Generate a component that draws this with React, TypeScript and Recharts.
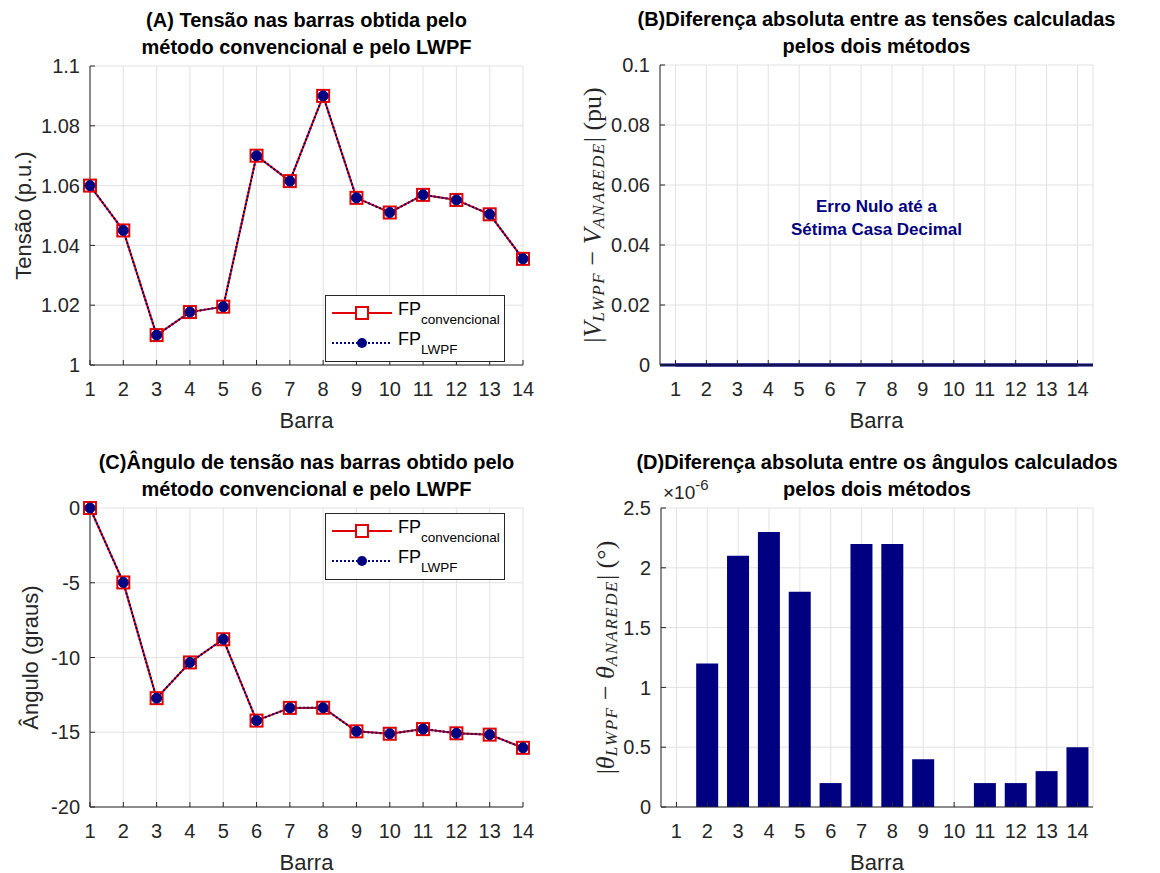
import { LineChart, Line, BarChart, Bar, XAxis, YAxis, CartesianGrid, ReferenceLine, ReferenceDot, Legend } from 'recharts';

// IEEE 14 barras: resultados do fluxo de potência
const buses = [1, 2, 3, 4, 5, 6, 7, 8, 9, 10, 11, 12, 13, 14];
const voltageConv = [1.06, 1.045, 1.01, 1.0177, 1.0195, 1.07, 1.0615, 1.09, 1.0559, 1.051, 1.0569, 1.0552, 1.0504, 1.0355];
const voltageLwpf = [1.06, 1.045, 1.01, 1.0177, 1.0195, 1.07, 1.0615, 1.09, 1.0559, 1.051, 1.0569, 1.0552, 1.0504, 1.0355];
const voltageDiff = [0, 0, 0, 0, 0, 0, 0, 0, 0, 0, 0, 0, 0, 0];
const angleConv = [0, -4.98, -12.72, -10.33, -8.78, -14.22, -13.37, -13.36, -14.94, -15.1, -14.79, -15.07, -15.16, -16.04];
const angleLwpf = [0, -4.98, -12.72, -10.33, -8.78, -14.22, -13.37, -13.36, -14.94, -15.1, -14.79, -15.07, -15.16, -16.04];
// em unidades de 1e-6 graus
const angleDiff = [0, 1.2, 2.1, 2.3, 1.8, 0.2, 2.2, 2.2, 0.4, 0, 0.2, 0.2, 0.3, 0.5];

const voltageTicks = [1, 1.02, 1.04, 1.06, 1.08, 1.1];
const voltageDiffTicks = [0, 0.02, 0.04, 0.06, 0.08, 0.1];
const angleTicks = [-20, -15, -10, -5, 0];
const angleDiffTicks = [0, 0.5, 1, 1.5, 2, 2.5];

const voltageData = buses.map((bus, i) => ({ bus, conv: voltageConv[i], lwpf: voltageLwpf[i], diff: voltageDiff[i] }));
const angleData = buses.map((bus, i) => ({ bus, conv: angleConv[i], lwpf: angleLwpf[i], diff: angleDiff[i] }));

const FONT = '"Liberation Sans", Arial, Helvetica, sans-serif';
const SERIF = '"Liberation Serif", "Times New Roman", serif';
const AX = '#262626';
const GRID = '#e2e2e2';
const RED = '#e00000';
const NAVY = '#000080';
const TICK_FONT = 20;
const LABEL_FONT = 22;

const Y_AXIS_W = 70;
const X_AXIS_H = 60;

type Box = { left: number; top: number; width: number; height: number };
type Plot = { x0: number; x1: number; y0: number; y1: number };

const marginFor = (box: Box, plot: Plot) => ({
  left: plot.x0 - box.left - Y_AXIS_W,
  top: plot.y0 - box.top,
  right: box.left + box.width - plot.x1,
  bottom: box.top + box.height - plot.y1 - X_AXIS_H,
});

const boxA: Box = { left: 0, top: 0, width: 560, height: 437 };
const plotA: Plot = { x0: 90, x1: 523, y0: 66, y1: 365 };
const boxB: Box = { left: 560, top: 0, width: 600, height: 437 };
const plotB: Plot = { x0: 660, x1: 1093, y0: 65, y1: 365 };
const boxC: Box = { left: 0, top: 437, width: 560, height: 436 };
const plotC: Plot = { x0: 90, x1: 523, y0: 508, y1: 807 };
const boxD: Box = { left: 560, top: 437, width: 600, height: 436 };
const plotD: Plot = { x0: 661, x1: 1093, y0: 508, y1: 807 };

const tickStyle = { fill: AX, fontSize: TICK_FONT, fontFamily: FONT };
const axisLine = { stroke: AX, strokeWidth: 1 };
const tickLine = { stroke: AX, strokeWidth: 1 };
const blank = () => '';
const fmt = (v: number) => String(+v.toFixed(2));

const squareDot = (props: any) => {
  const { cx, cy, index } = props;
  return <rect key={`sq-${index}`} x={cx - 6} y={cy - 6} width={12} height={12} fill="none" stroke={RED} strokeWidth={2} />;
};
const circleDot = (props: any) => {
  const { cx, cy, index } = props;
  return <circle key={`ci-${index}`} cx={cx} cy={cy} r={5} fill={NAVY} stroke={NAVY} />;
};

function Title({ lines, plot }: { lines: string[]; plot: Plot }) {
  const cx = (plot.x0 + plot.x1) / 2;
  return (
    <div
      style={{
        position: 'absolute',
        left: cx - 300,
        width: 600,
        top: plot.y0 - 59,
        textAlign: 'center',
        fontFamily: FONT,
        fontWeight: 'bold',
        fontSize: 20,
        lineHeight: '27px',
        color: '#000',
      }}
    >
      {lines.map((l) => (
        <div key={l}>{l}</div>
      ))}
    </div>
  );
}

function xLabel(box: Box, plot: Plot) {
  return () => (
    <text
      x={(plot.x0 + plot.x1) / 2 - box.left}
      y={plot.y1 + 55 - box.top}
      textAnchor="middle"
      dominantBaseline="central"
      fill={AX}
      fontSize={LABEL_FONT}
      fontFamily={FONT}
    >
      Barra
    </text>
  );
}

function yLabel(box: Box, plot: Plot, x: number, text: string) {
  const cx = x - box.left;
  const cy = (plot.y0 + plot.y1) / 2 - box.top;
  return () => (
    <text
      x={cx}
      y={cy}
      transform={`rotate(-90, ${cx}, ${cy})`}
      textAnchor="middle"
      dominantBaseline="central"
      fill={AX}
      fontSize={LABEL_FONT}
      fontFamily={FONT}
    >
      {text}
    </text>
  );
}

// rótulo em notação matemática: |S_a − S_b| (unidade)
function mathLabel(box: Box, plot: Plot, x: number, sym: string, unit: string, extra?: boolean) {
  const cx = x - box.left;
  const cy = (plot.y0 + plot.y1) / 2 - box.top;
  return () => (
    <g>
      <text
        x={cx}
        y={cy}
        transform={`rotate(-90, ${cx}, ${cy})`}
        textAnchor="middle"
        dominantBaseline="central"
        fill={AX}
        fontSize={26}
        fontFamily={SERIF}
      >
        <tspan>|</tspan>
        <tspan fontStyle="italic">{sym}</tspan>
        <tspan fontStyle="italic" fontSize={17} dy={6} letterSpacing={1.5}>LWPF</tspan>
        <tspan dy={-6}> − </tspan>
        <tspan fontStyle="italic">{sym}</tspan>
        <tspan fontStyle="italic" fontSize={17} dy={6} letterSpacing={1.5}>ANAREDE</tspan>
        <tspan dy={-6}>| {unit}</tspan>
      </text>
      {extra && (
        <text x={plot.x0 - box.left + 2} y={plot.y0 - box.top - 9} fill={AX} fontSize={19} fontFamily={FONT}>
          ×10<tspan fontSize={15} dy={-9}>-6</tspan>
        </text>
      )}
    </g>
  );
}

function LegendBox() {
  return (
    <svg width={180} height={67} style={{ display: 'block' }}>
      <rect x={0.5} y={0.5} width={179} height={66} fill="#fff" stroke={AX} strokeWidth={1} />
      <line x1={7} x2={67} y1={18} y2={18} stroke={RED} strokeWidth={2} />
      <rect x={31} y={12} width={12} height={12} fill="#fff" stroke={RED} strokeWidth={2} />
      <text x={73} y={20} fontSize={18} fontFamily={FONT} fill="#000">
        FP<tspan fontSize={13.5} dy={9}>convencional</tspan>
      </text>
      <line x1={7} x2={67} y1={48} y2={48} stroke={NAVY} strokeWidth={2} strokeDasharray="2 2" />
      <circle cx={37} cy={48} r={5} fill={NAVY} />
      <text x={73} y={50} fontSize={18} fontFamily={FONT} fill="#000">
        FP<tspan fontSize={13.5} dy={9}>LWPF</tspan>
      </text>
    </svg>
  );
}

const legendAt = (box: Box, left: number, top: number) => ({
  position: 'absolute' as const,
  left: left - box.left,
  top: top - box.top,
  width: 180,
  height: 67,
  bottom: 'auto',
  right: 'auto',
});

function nulText(props: any) {
  const vb = props.viewBox || {};
  const x = vb.x + (vb.width || 0) / 2;
  const y = vb.y + (vb.height || 0) / 2;
  return (
    <g>
      <text x={x} y={y - 9} textAnchor="middle" dominantBaseline="central" fill={NAVY} fontSize={17} fontWeight="bold" fontFamily={FONT}>
        Erro Nulo até a
      </text>
      <text x={x} y={y + 14} textAnchor="middle" dominantBaseline="central" fill={NAVY} fontSize={17} fontWeight="bold" fontFamily={FONT}>
        Sétima Casa Decimal
      </text>
    </g>
  );
}

const place = (box: Box) => ({ position: 'absolute' as const, left: box.left, top: box.top });

export default function App() {
  return (
    <div style={{ position: 'absolute', left: 0, top: 0, width: 1160, height: 873, background: '#fff', overflow: 'hidden' }}>
      {/* (A) tensões */}
      <div style={place(boxA)}>
        <LineChart width={boxA.width} height={boxA.height} data={voltageData} margin={marginFor(boxA, plotA)}>
          <CartesianGrid stroke={GRID} strokeWidth={1} />
          <XAxis dataKey="bus" type="number" domain={[1, 14]} ticks={buses} height={X_AXIS_H} tick={tickStyle} tickSize={-5} tickMargin={22} axisLine={axisLine} tickLine={tickLine} label={xLabel(boxA, plotA)} />
          <XAxis xAxisId="top" orientation="top" dataKey="bus" type="number" domain={[1, 14]} ticks={buses} height={0} tickSize={-5} tickFormatter={blank} axisLine={axisLine} tickLine={tickLine} />
          <YAxis type="number" domain={[1, 1.1]} ticks={voltageTicks} width={Y_AXIS_W} tick={tickStyle} tickSize={-5} tickMargin={15} tickFormatter={fmt} axisLine={axisLine} tickLine={tickLine} label={yLabel(boxA, plotA, 23, 'Tensão (p.u.)')} />
          <YAxis yAxisId="right" orientation="right" type="number" domain={[1, 1.1]} ticks={voltageTicks} width={0} tickSize={-5} tickFormatter={blank} axisLine={axisLine} tickLine={tickLine} />
          <Line dataKey="conv" stroke={RED} strokeWidth={2} dot={squareDot} isAnimationActive={false} />
          <Line dataKey="lwpf" stroke={NAVY} strokeWidth={2} strokeDasharray="2 2" dot={circleDot} isAnimationActive={false} />
          <Legend content={() => <LegendBox />} layout="vertical" align="center" verticalAlign="middle" wrapperStyle={legendAt(boxA, 325, 295)} />
        </LineChart>
      </div>
      <Title lines={['(A) Tensão nas barras obtida pelo', 'método convencional e pelo LWPF']} plot={plotA} />

      {/* (B) diferença das tensões */}
      <div style={place(boxB)}>
        <LineChart width={boxB.width} height={boxB.height} data={voltageData} margin={marginFor(boxB, plotB)}>
          <CartesianGrid stroke={GRID} strokeWidth={1} />
          <XAxis dataKey="bus" type="number" domain={[0.5, 14.5]} ticks={buses} height={X_AXIS_H} tick={tickStyle} tickSize={-5} tickMargin={22} axisLine={axisLine} tickLine={tickLine} label={xLabel(boxB, plotB)} />
          <XAxis xAxisId="top" orientation="top" dataKey="bus" type="number" domain={[0.5, 14.5]} ticks={buses} height={0} tickSize={-5} tickFormatter={blank} axisLine={axisLine} tickLine={tickLine} />
          <YAxis type="number" domain={[0, 0.1]} ticks={voltageDiffTicks} width={Y_AXIS_W} tick={tickStyle} tickSize={-5} tickMargin={15} tickFormatter={fmt} axisLine={axisLine} tickLine={tickLine} label={mathLabel(boxB, plotB, 592, 'V', '(pu)')} />
          <YAxis yAxisId="right" orientation="right" type="number" domain={[0, 0.1]} ticks={voltageDiffTicks} width={0} tickSize={-5} tickFormatter={blank} axisLine={axisLine} tickLine={tickLine} />
          <ReferenceLine y={0} stroke={NAVY} strokeWidth={3} />
          <Line dataKey="diff" stroke={NAVY} strokeWidth={3} dot={false} isAnimationActive={false} />
          <ReferenceDot x={7.5} y={0.05} r={1} fill="none" stroke="none" label={nulText} />
        </LineChart>
      </div>
      <Title lines={['(B)Diferença absoluta entre as tensões calculadas', 'pelos dois métodos']} plot={plotB} />

      {/* (C) ângulos */}
      <div style={place(boxC)}>
        <LineChart width={boxC.width} height={boxC.height} data={angleData} margin={marginFor(boxC, plotC)}>
          <CartesianGrid stroke={GRID} strokeWidth={1} />
          <XAxis dataKey="bus" type="number" domain={[1, 14]} ticks={buses} height={X_AXIS_H} tick={tickStyle} tickSize={-5} tickMargin={22} axisLine={axisLine} tickLine={tickLine} label={xLabel(boxC, plotC)} />
          <XAxis xAxisId="top" orientation="top" dataKey="bus" type="number" domain={[1, 14]} ticks={buses} height={0} tickSize={-5} tickFormatter={blank} axisLine={axisLine} tickLine={tickLine} />
          <YAxis type="number" domain={[-20, 0]} ticks={angleTicks} width={Y_AXIS_W} tick={tickStyle} tickSize={-5} tickMargin={15} axisLine={axisLine} tickLine={tickLine} label={yLabel(boxC, plotC, 30, 'Ângulo (graus)')} />
          <YAxis yAxisId="right" orientation="right" type="number" domain={[-20, 0]} ticks={angleTicks} width={0} tickSize={-5} tickFormatter={blank} axisLine={axisLine} tickLine={tickLine} />
          <Line dataKey="conv" stroke={RED} strokeWidth={2} dot={squareDot} isAnimationActive={false} />
          <Line dataKey="lwpf" stroke={NAVY} strokeWidth={2} strokeDasharray="2 2" dot={circleDot} isAnimationActive={false} />
          <Legend content={() => <LegendBox />} layout="vertical" align="center" verticalAlign="middle" wrapperStyle={legendAt(boxC, 325, 513)} />
        </LineChart>
      </div>
      <Title lines={['(C)Ângulo de tensão nas barras obtido pelo', 'método convencional e pelo LWPF']} plot={plotC} />

      {/* (D) diferença dos ângulos */}
      <div style={place(boxD)}>
        <BarChart width={boxD.width} height={boxD.height} data={angleData} margin={marginFor(boxD, plotD)} barCategoryGap="14%">
          <CartesianGrid stroke={GRID} strokeWidth={1} />
          <XAxis dataKey="bus" type="category" interval={0} height={X_AXIS_H} tick={tickStyle} tickSize={-5} tickMargin={22} axisLine={axisLine} tickLine={tickLine} label={xLabel(boxD, plotD)} />
          <XAxis xAxisId="top" orientation="top" dataKey="bus" type="category" interval={0} height={0} tickSize={-5} tickFormatter={blank} axisLine={axisLine} tickLine={tickLine} />
          <YAxis type="number" domain={[0, 2.5]} ticks={angleDiffTicks} width={Y_AXIS_W} tick={tickStyle} tickSize={-5} tickMargin={15} axisLine={axisLine} tickLine={tickLine} label={mathLabel(boxD, plotD, 605, 'θ', '(°)', true)} />
          <YAxis yAxisId="right" orientation="right" type="number" domain={[0, 2.5]} ticks={angleDiffTicks} width={0} tickSize={-5} tickFormatter={blank} axisLine={axisLine} tickLine={tickLine} />
          <Bar dataKey="diff" fill={NAVY} isAnimationActive={false} />
        </BarChart>
      </div>
      <Title lines={['(D)Diferença absoluta entre os ângulos calculados', 'pelos dois métodos']} plot={plotD} />
    </div>
  );
}
